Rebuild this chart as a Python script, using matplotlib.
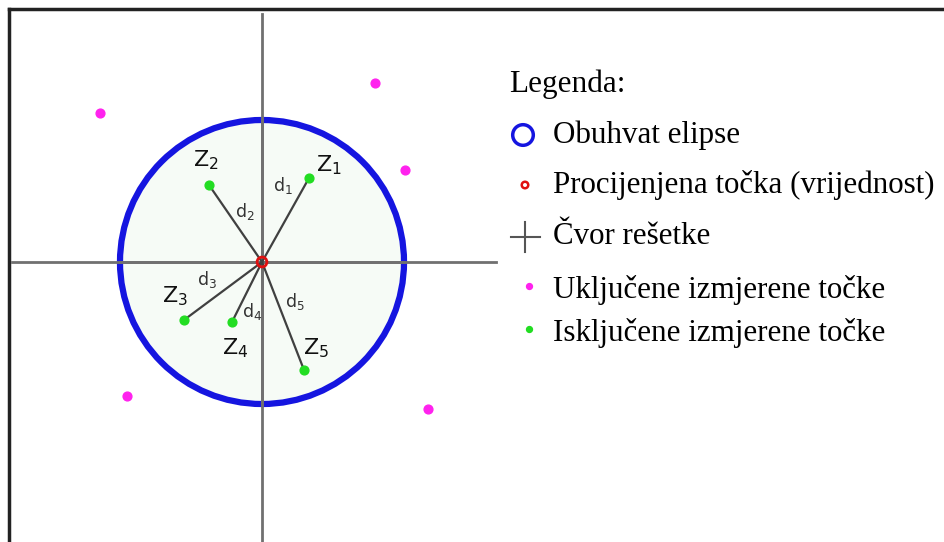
import matplotlib.pyplot as plt
from matplotlib.patches import Circle

# positions (pixel space, y grows downward)
centre = (262, 262)
radius = 142
excluded_x = [309, 209, 184, 232, 304]   # green, inside the ellipse
excluded_y = [178, 185, 320, 322, 370]
included_x = [100, 375, 405, 127, 428]   # magenta, outside
included_y = [113, 83, 170, 396, 409]

z_labels = ['Z$_1$', 'Z$_2$', 'Z$_3$', 'Z$_4$', 'Z$_5$']
z_pos = [(329, 165), (206, 160), (175, 296), (235, 348), (316, 348)]
d_labels = ['d$_1$', 'd$_2$', 'd$_3$', 'd$_4$', 'd$_5$']
d_pos = [(283, 186), (245, 211), (207, 279), (252, 311), (295, 302)]

legend_title = 'Legenda:'
legend_items = ['Obuhvat elipse', 'Procijenjena točka (vrijednost)', 'Čvor rešetke',
                'Uključene izmjerene točke', 'Isključene izmjerene točke']
legend_y = [135, 185, 237, 290, 333]

fig = plt.figure(figsize=(9.44, 5.42), dpi=100)
ax = fig.add_axes([0, 0, 1, 1])
ax.set_xlim(0, 944)
ax.set_ylim(542, 0)
ax.axis('off')

# frame (only top and left show)
ax.plot([9, 944], [9, 9], color='#222222', lw=2.5)
ax.plot([9, 9], [9, 542], color='#222222', lw=2.5)

# grid node cross
ax.plot([262, 262], [14, 542], color='#707070', lw=2)
ax.plot([12, 496], [262, 262], color='#707070', lw=2)

ax.add_patch(Circle(centre, radius, facecolor='#f6fbf6', edgecolor='#1515e0', lw=4.5, zorder=1))
ax.plot([262, 262], [120, 404], color='#707070', lw=2, zorder=2)
ax.plot([120, 404], [262, 262], color='#707070', lw=2, zorder=2)

for x, y in zip(excluded_x, excluded_y):
    ax.plot([centre[0], x], [centre[1], y], color='#404040', lw=1.6, zorder=3)

ax.scatter(excluded_x, excluded_y, s=40, color='#22dd22', zorder=4)
ax.scatter(included_x, included_y, s=40, color='#ff22ee', zorder=4)
ax.scatter([centre[0]], [centre[1]], s=50, facecolor='none', edgecolor='#e01010', lw=2, zorder=5)

for lab, (x, y) in zip(z_labels, z_pos):
    ax.text(x, y, lab, fontsize=16, ha='center', va='center', color='#111111', zorder=6)
for lab, (x, y) in zip(d_labels, d_pos):
    ax.text(x, y, lab, fontsize=12.5, ha='center', va='center', color='#333333', zorder=6)

# legend drawn by hand
serif = 'Liberation Serif'
ax.text(509, 84, legend_title, family=serif, fontsize=22.5, va='center', ha='left')
ax.scatter([523], [legend_y[0]], s=220, facecolor='none', edgecolor='#1515e0', lw=2.5)
ax.scatter([525], [legend_y[1]], s=22, facecolor='none', edgecolor='#e01010', lw=1.8)
ax.plot([511, 540], [legend_y[2], legend_y[2]], color='#555555', lw=1.5)
ax.plot([525, 525], [legend_y[2] - 15, legend_y[2] + 15], color='#555555', lw=1.5)
ax.scatter([529], [legend_y[3] - 4], s=18, color='#ff22ee')
ax.scatter([529], [legend_y[4] - 4], s=18, color='#22dd22')
for lab, y in zip(legend_items, legend_y):
    ax.text(553, y, lab, family=serif, fontsize=22.3, va='center', ha='left')

fig.savefig('out.png', dpi=100)
